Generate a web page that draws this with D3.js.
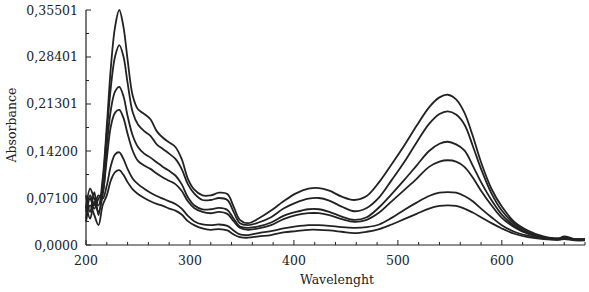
<!DOCTYPE html>
<html><head><meta charset="utf-8">
<script src="https://cdn.jsdelivr.net/npm/d3@7/dist/d3.min.js"></script>
<style>html,body{margin:0;padding:0;background:#fff;}svg{display:block;}
text{font-family:"DejaVu Serif",serif;}</style>
</head><body>
<script>
const wavelengths = [200,204,208,212,216,220,224,228,232,236,240,245,250,256,262,268,274,280,286,292,298,304,312,320,328,336,342,348,356,366,378,390,402,414,424,434,446,458,470,482,494,506,518,530,540,548,556,564,572,580,590,600,612,625,640,655,660,670,680];
const series1 = [0.055,0.085,0.070,0.060,0.100,0.180,0.270,0.330,0.355,0.330,0.280,0.225,0.205,0.198,0.190,0.172,0.162,0.155,0.148,0.130,0.100,0.084,0.075,0.075,0.079,0.077,0.058,0.038,0.033,0.040,0.052,0.066,0.078,0.085,0.086,0.082,0.073,0.068,0.074,0.095,0.122,0.150,0.180,0.208,0.223,0.227,0.220,0.200,0.165,0.125,0.085,0.058,0.035,0.022,0.013,0.010,0.013,0.009,0.009];
const series2 = [0.075,0.050,0.080,0.045,0.090,0.170,0.240,0.285,0.302,0.285,0.245,0.200,0.182,0.172,0.165,0.152,0.145,0.138,0.130,0.115,0.092,0.078,0.068,0.068,0.071,0.068,0.050,0.033,0.030,0.034,0.042,0.055,0.064,0.070,0.071,0.067,0.058,0.051,0.056,0.072,0.098,0.125,0.155,0.183,0.198,0.202,0.197,0.182,0.150,0.115,0.078,0.052,0.032,0.020,0.012,0.010,0.012,0.009,0.009];
const series3 = [0.040,0.070,0.055,0.070,0.080,0.150,0.205,0.232,0.239,0.225,0.195,0.165,0.148,0.138,0.132,0.125,0.118,0.112,0.105,0.092,0.072,0.060,0.054,0.054,0.056,0.053,0.040,0.028,0.026,0.028,0.034,0.044,0.050,0.054,0.054,0.050,0.043,0.038,0.042,0.057,0.077,0.098,0.120,0.142,0.153,0.156,0.152,0.143,0.120,0.095,0.068,0.046,0.029,0.018,0.011,0.009,0.011,0.008,0.008];
const series4 = [0.060,0.040,0.065,0.050,0.075,0.130,0.180,0.200,0.204,0.192,0.168,0.142,0.127,0.120,0.115,0.108,0.102,0.097,0.092,0.082,0.066,0.056,0.050,0.048,0.050,0.047,0.036,0.026,0.023,0.025,0.030,0.039,0.045,0.048,0.048,0.045,0.039,0.035,0.038,0.049,0.066,0.083,0.100,0.118,0.126,0.128,0.126,0.118,0.102,0.082,0.060,0.041,0.027,0.017,0.011,0.009,0.011,0.008,0.008];
const series5 = [0.050,0.075,0.060,0.075,0.070,0.090,0.120,0.137,0.140,0.130,0.115,0.100,0.092,0.085,0.079,0.074,0.070,0.066,0.062,0.055,0.044,0.036,0.031,0.030,0.031,0.029,0.022,0.016,0.015,0.018,0.021,0.025,0.028,0.030,0.030,0.029,0.027,0.026,0.027,0.031,0.041,0.053,0.064,0.074,0.079,0.080,0.079,0.074,0.066,0.055,0.042,0.030,0.020,0.014,0.010,0.008,0.010,0.008,0.008];
const series6 = [0.035,0.060,0.045,0.030,0.060,0.075,0.098,0.110,0.113,0.106,0.095,0.084,0.077,0.071,0.066,0.062,0.059,0.055,0.052,0.046,0.036,0.030,0.025,0.023,0.024,0.022,0.016,0.012,0.011,0.013,0.015,0.019,0.021,0.023,0.023,0.022,0.020,0.018,0.020,0.024,0.031,0.039,0.047,0.055,0.059,0.060,0.059,0.055,0.049,0.042,0.033,0.025,0.017,0.012,0.009,0.008,0.009,0.007,0.007];
const allSeries = [series1, series2, series3, series4, series5, series6];
const xTickValues = [200,300,400,500,600];
const xTickLabels = ["200","300","400","500","600"];
const yTickValues = [0, 0.071, 0.142, 0.21301, 0.28401, 0.35501];
const yTickLabels = ["0,0000","0,07100","0,14200","0,21301","0,28401","0,35501"];
const xLabel = "Wavelenght";
const yLabel = "Absorbance";

const W = 589, H = 292;
const svg = d3.select("body").append("svg").attr("width", W).attr("height", H);
const x = d3.scaleLinear().domain([200, 680]).range([86, 585]);
const y = d3.scaleLinear().domain([0, 0.35501]).range([245, 10]);
const ink = "#222";

// X axis
const xMinor = d3.range(200, 681, 20).filter(v => v % 100 !== 0);
const gx = svg.append("g").attr("transform", `translate(0,${y(0)})`);
gx.append("line").attr("x1", x(200)).attr("x2", x(680)).attr("stroke", ink).attr("stroke-width", 1.2);
gx.selectAll("line.maj").data(xTickValues).join("line").attr("class","maj")
  .attr("x1", d => x(d)).attr("x2", d => x(d)).attr("y1", 0).attr("y2", -5).attr("stroke", ink);
gx.selectAll("line.min").data(xMinor).join("line").attr("class","min")
  .attr("x1", d => x(d)).attr("x2", d => x(d)).attr("y1", 0).attr("y2", -3).attr("stroke", ink);
gx.selectAll("text").data(xTickValues).join("text")
  .attr("x", d => x(d)).attr("y", 20).attr("text-anchor", "middle")
  .style("font-size", "12.5px").attr("fill", ink)
  .text((d, i) => xTickLabels[i]);

// Y axis
const yMinor = d3.range(5).map(i => (yTickValues[i] + yTickValues[i+1]) / 2);
const gy = svg.append("g").attr("transform", `translate(${x(200)},0)`);
gy.append("line").attr("y1", y(0)).attr("y2", y(0.35501)).attr("stroke", ink).attr("stroke-width", 1.2);
gy.selectAll("line.maj").data(yTickValues).join("line").attr("class","maj")
  .attr("y1", d => y(d)).attr("y2", d => y(d)).attr("x1", 0).attr("x2", 5).attr("stroke", ink);
gy.selectAll("line.min").data(yMinor).join("line").attr("class","min")
  .attr("y1", d => y(d)).attr("y2", d => y(d)).attr("x1", 0).attr("x2", 3).attr("stroke", ink);
gy.selectAll("text").data(yTickValues).join("text")
  .attr("x", -8).attr("y", d => y(d) + 4.5).attr("text-anchor", "end")
  .style("font-size", "12.5px").attr("fill", ink)
  .text((d, i) => yTickLabels[i]);

// Axis titles
svg.append("text").attr("x", 337).attr("y", 284).attr("text-anchor", "middle")
  .style("font-size", "12.5px").attr("fill", ink).text(xLabel);
svg.append("text").attr("transform", "translate(16,125) rotate(-90)").attr("text-anchor", "middle")
  .style("font-size", "12.5px").attr("fill", ink).text(yLabel);

// Curves
const line = d3.line().x((d, i) => x(wavelengths[i])).y(d => y(d)).curve(d3.curveCatmullRom.alpha(0.5));
svg.append("g").selectAll("path").data(allSeries).join("path")
  .attr("d", s => line(s)).attr("fill", "none").attr("stroke", ink).attr("stroke-width", 1.8);
</script>
</body></html>
